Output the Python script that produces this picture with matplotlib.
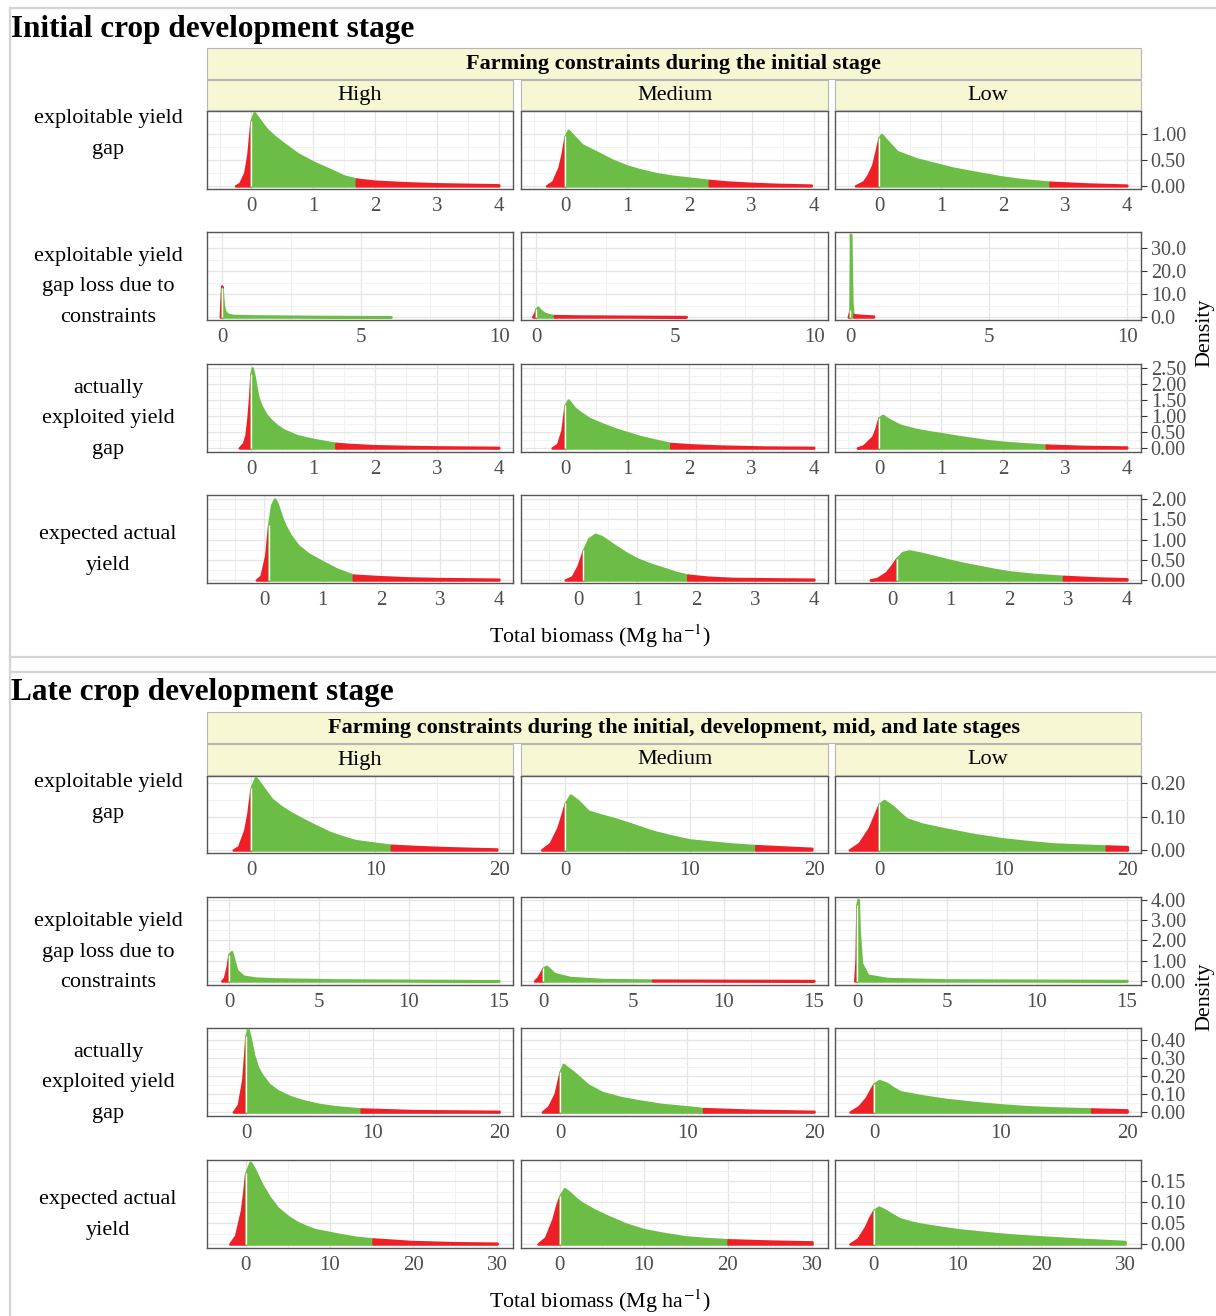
import numpy as np
import matplotlib
matplotlib.use('Agg')
import matplotlib.pyplot as plt
from matplotlib.patches import Rectangle
from matplotlib.lines import Line2D
from matplotlib.ticker import MultipleLocator

plt.rcParams['font.family'] = ['Liberation Serif', 'DejaVu Serif']
plt.rcParams['mathtext.fontset'] = 'stix'

# ---- data (density knots per panel: High, Medium, Low)
levels = ['High', 'Medium', 'Low']
row_labels = ['exploitable yield\ngap',
              'exploitable yield\ngap loss due to\nconstraints',
              'actually\nexploited yield\ngap',
              'expected actual\nyield']

# initial stage, exploitable yield gap
init_gap_x = [[-0.25, -0.18, -0.1, -0.05, 0.0, 0.05, 0.12, 0.18, 0.26, 0.38, 0.52, 0.75, 1.0, 1.32, 1.5, 1.7,
               2.0, 2.5, 3.0, 3.5, 4.0],
              [-0.3, -0.2, -0.1, -0.05, 0.0, 0.05, 0.12, 0.27, 0.49, 0.75, 1.0, 1.2, 1.47, 1.7, 1.99, 2.32,
               2.6, 2.97, 3.4, 3.96],
              [-0.38, -0.25, -0.18, -0.1, -0.05, 0.0, 0.04, 0.12, 0.29, 0.6, 0.8, 1.0, 1.2, 1.47, 1.7, 1.99,
               2.3, 2.76, 3.4, 4.0]]
init_gap_y = [[0.0, 0.05, 0.25, 0.6, 1.24, 1.41, 1.30, 1.2, 1.08, 0.95, 0.82, 0.62, 0.46, 0.29, 0.19, 0.13,
               0.09, 0.06, 0.04, 0.03, 0.02],
              [0.0, 0.08, 0.35, 0.6, 0.95, 1.07, 0.98, 0.79, 0.66, 0.5, 0.38, 0.31, 0.235, 0.19, 0.15, 0.105,
               0.075, 0.05, 0.03, 0.015],
              [0.0, 0.08, 0.2, 0.4, 0.65, 0.92, 0.99, 0.88, 0.66, 0.52, 0.46, 0.40, 0.34, 0.28, 0.23, 0.17,
               0.12, 0.07, 0.035, 0.015]]
init_gap_cut = [(0.0, 1.7), (0.0, 2.32), (0.0, 2.76)]

# initial stage, exploitable yield gap loss due to constraints
init_loss_x = [[-0.06, -0.03, -0.01, 0.0, 0.05, 0.1, 0.2, 0.4, 1.0, 3.0, 6.1],
               [-0.12, -0.05, 0.0, 0.06, 0.15, 0.3, 0.5, 0.66, 1.5, 3.0, 5.4],
               [-0.06, -0.02, 0.0, 0.02, 0.04, 0.07, 0.1, 0.14, 0.4, 0.85]]
init_loss_y = [[0.0, 8.0, 13.5, 12.5, 5.0, 2.5, 1.2, 0.7, 0.5, 0.3, 0.1],
               [0.0, 1.5, 3.5, 4.3, 3.0, 1.6, 0.9, 0.6, 0.45, 0.35, 0.2],
               [0.0, 2.0, 3.0, 36.0, 25.0, 6.0, 2.0, 1.0, 0.7, 0.4]]
init_loss_cut = [(0.0, None), (0.0, 0.66), (0.0, 0.14)]

# initial stage, actually exploited yield gap
init_expl_x = [[-0.19, -0.12, -0.08, -0.05, -0.02, 0.0, 0.02, 0.05, 0.08, 0.11, 0.16, 0.24, 0.32, 0.42, 0.53,
                0.75, 1.0, 1.2, 1.37, 1.6, 2.0, 2.5, 3.0, 4.0],
               [-0.21, -0.12, -0.05, 0.0, 0.05, 0.15, 0.25, 0.39, 0.6, 0.8, 1.0, 1.2, 1.44, 1.7, 2.0, 2.5,
                3.2, 4.0],
               [-0.35, -0.25, -0.1, -0.05, 0.0, 0.06, 0.15, 0.34, 0.6, 0.8, 1.0, 1.25, 1.5, 1.75, 2.0, 2.35,
                2.7, 3.3, 4.0]]
init_expl_y = [[0.0, 0.15, 0.4, 0.9, 1.6, 2.31, 2.5, 2.25, 1.9, 1.6, 1.33, 1.05, 0.87, 0.7, 0.56,
                0.38, 0.27, 0.2, 0.145, 0.11, 0.07, 0.05, 0.035, 0.02],
               [0.0, 0.12, 0.55, 1.33, 1.5, 1.25, 1.1, 0.92, 0.75, 0.6, 0.48, 0.36, 0.25, 0.14, 0.1, 0.06,
                0.03, 0.02],
               [0.0, 0.07, 0.35, 0.6, 0.94, 1.02, 0.9, 0.71, 0.58, 0.51, 0.45, 0.37, 0.3, 0.23, 0.18, 0.13,
                0.09, 0.05, 0.03]]
init_expl_cut = [(0.0, 1.37), (0.0, 1.7), (0.0, 2.7)]

# initial stage, expected actual yield
init_yield_x = [[-0.13, -0.05, 0.03, 0.08, 0.13, 0.18, 0.22, 0.3, 0.36, 0.45, 0.58, 0.75, 1.0, 1.24, 1.52,
                 2.0, 2.5, 3.0, 4.0],
                [-0.22, -0.1, 0.0, 0.09, 0.18, 0.29, 0.4, 0.5, 0.62, 0.8, 1.0, 1.25, 1.49, 1.68, 1.86,
                 2.2, 2.6, 3.2, 4.0],
                [-0.37, -0.25, -0.1, 0.0, 0.08, 0.18, 0.29, 0.5, 0.75, 1.0, 1.25, 1.5, 1.75, 2.0, 2.4,
                 2.92, 3.5, 4.0]]
init_yield_y = [[0.0, 0.1, 0.6, 1.36, 1.85, 2.0, 1.9, 1.55, 1.34, 1.1, 0.85, 0.65, 0.45, 0.27, 0.12,
                 0.08, 0.05, 0.035, 0.02],
                [0.0, 0.08, 0.35, 0.74, 1.02, 1.13, 1.07, 0.97, 0.85, 0.68, 0.52, 0.38, 0.27, 0.18, 0.12,
                 0.07, 0.04, 0.03, 0.02],
                [0.0, 0.04, 0.18, 0.36, 0.53, 0.68, 0.72, 0.66, 0.57, 0.48, 0.4, 0.33, 0.26, 0.2, 0.14,
                 0.09, 0.05, 0.03]]
init_yield_cut = [(0.08, 1.52), (0.09, 1.86), (0.08, 2.92)]

# late stage, exploitable yield gap
late_gap_x = [[-1.44, -1.0, -0.5, -0.25, 0.0, 0.36, 0.9, 1.65, 2.4, 3.2, 4.1, 5.0, 6.3, 7.3, 8.4, 10.0,
               11.3, 13.5, 15.6, 17.5, 19.8],
              [-1.9, -1.2, -0.6, -0.3, 0.0, 0.41, 1.0, 1.85, 2.8, 4.0, 5.5, 7.0, 8.5, 10.0, 13.3, 15.3,
               17.5, 19.8],
              [-2.4, -1.6, -0.8, -0.4, 0.0, 0.41, 1.1, 2.2, 3.5, 5.3, 7.5, 10.0, 12.0, 14.1, 16.0, 18.3,
               20.0]]
late_gap_y = [[0.0, 0.01, 0.06, 0.11, 0.184, 0.217, 0.19, 0.152, 0.13, 0.111, 0.093, 0.076, 0.053, 0.04,
               0.028, 0.02, 0.014, 0.01, 0.007, 0.005, 0.003],
              [0.0, 0.02, 0.065, 0.1, 0.139, 0.164, 0.148, 0.116, 0.105, 0.093, 0.075, 0.056, 0.042, 0.03,
               0.018, 0.013, 0.009, 0.005],
              [0.0, 0.02, 0.065, 0.1, 0.136, 0.148, 0.13, 0.093, 0.077, 0.063, 0.047, 0.033, 0.025, 0.018,
               0.015, 0.012, 0.01]]
late_gap_cut = [(0.0, 11.3), (0.0, 15.3), (0.0, 18.3)]

# late stage, exploitable yield gap loss due to constraints
late_loss_x = [[-0.4, -0.25, -0.1, 0.0, 0.1, 0.14, 0.25, 0.43, 0.8, 1.5, 2.6, 6.0, 15.0],
               [-0.47, -0.3, -0.1, 0.0, 0.18, 0.35, 0.61, 1.5, 3.3, 6.07, 10.0, 15.0],
               [-0.12, -0.05, 0.0, 0.03, 0.07, 0.12, 0.25, 0.6, 1.7, 5.0, 15.0]]
late_loss_y = [[0.0, 0.15, 0.7, 1.3, 1.42, 1.45, 1.1, 0.53, 0.23, 0.14, 0.1, 0.05, 0.01],
               [0.0, 0.15, 0.45, 0.62, 0.73, 0.6, 0.37, 0.17, 0.07, 0.04, 0.03, 0.02],
               [0.0, 1.0, 3.75, 3.9, 4.03, 2.5, 0.87, 0.28, 0.12, 0.05, 0.02]]
late_loss_cut = [(0.0, None), (0.0, 6.07), (0.0, None)]

# late stage, actually exploited yield gap
late_expl_x = [[-1.0, -0.6, -0.25, -0.1, 0.0, 0.15, 0.3, 0.6, 0.9, 1.27, 1.8, 2.5, 3.5, 4.6, 5.8, 7.1, 9.1,
                13.2, 16.5, 20.0],
               [-1.4, -0.9, -0.4, -0.2, 0.0, 0.25, 0.6, 0.9, 1.27, 2.2, 3.3, 4.8, 6.3, 8.0, 10.0, 11.3,
                15.0, 20.0],
               [-1.9, -1.2, -0.6, -0.3, 0.0, 0.4, 1.0, 1.5, 2.1, 3.8, 5.7, 7.8, 10.0, 12.0, 14.2, 17.2,
                20.0]]
late_expl_y = [[0.0, 0.04, 0.18, 0.32, 0.423, 0.46, 0.42, 0.318, 0.25, 0.204, 0.155, 0.118, 0.085, 0.061,
                0.042, 0.029, 0.017, 0.008, 0.006, 0.004],
               [0.0, 0.03, 0.1, 0.16, 0.223, 0.265, 0.245, 0.23, 0.208, 0.15, 0.109, 0.08, 0.061, 0.042,
                0.029, 0.019, 0.01, 0.004],
               [0.0, 0.03, 0.08, 0.12, 0.156, 0.175, 0.16, 0.135, 0.112, 0.09, 0.07, 0.054, 0.04, 0.03,
                0.023, 0.017, 0.012]]
late_expl_cut = [(0.0, 9.1), (0.0, 11.3), (0.0, 17.2)]

# late stage, expected actual yield
late_yield_x = [[-1.9, -1.2, -0.5, -0.25, 0.0, 0.53, 1.0, 1.9, 2.8, 3.8, 5.0, 6.1, 7.2, 8.3, 11.4, 13.2,
                 15.2, 17.5, 19.7, 25.0, 30.0],
                [-2.6, -1.7, -0.8, -0.4, 0.0, 0.54, 1.2, 1.8, 2.6, 4.0, 5.7, 7.8, 10.0, 12.4, 14.9, 17.5,
                 20.0, 25.0, 30.0],
                [-2.85, -1.9, -1.0, -0.5, 0.0, 0.6, 1.4, 2.2, 3.1, 4.5, 6.0, 8.0, 10.0, 12.5, 15.0, 17.5,
                 20.0, 25.0, 30.0]]
late_yield_y = [[0.0, 0.02, 0.08, 0.12, 0.168, 0.195, 0.18, 0.142, 0.112, 0.086, 0.066, 0.052, 0.042,
                 0.034, 0.022, 0.016, 0.012, 0.009, 0.006, 0.003, 0.002],
                [0.0, 0.015, 0.06, 0.09, 0.114, 0.132, 0.122, 0.11, 0.098, 0.082, 0.066, 0.048, 0.034,
                 0.025, 0.017, 0.013, 0.01, 0.007, 0.005],
                [0.0, 0.012, 0.04, 0.062, 0.08, 0.088, 0.08, 0.07, 0.06, 0.052, 0.046, 0.04, 0.034,
                 0.029, 0.024, 0.02, 0.017, 0.011, 0.006]]
late_yield_cut = [(0.0, 15.2), (0.0, 20.0), (0.0, None)]

RED = '#ee1f26'
GREEN = '#6bbd45'
STRIP = '#f7f7d3'
W, H = 1216, 1316

fig = plt.figure(figsize=(W / 100, H / 100), dpi=100)


def fx(x):
    return x / W


def fy(y):
    return 1 - y / H


def box(l, t, r, b):
    fig.add_artist(Rectangle((fx(l), fy(b)), fx(r - l), (b - t) / H,
                             transform=fig.transFigure, facecolor=STRIP,
                             edgecolor='#b5b5b5', lw=0.8))


def hline(y, x0=10, x1=W):
    fig.add_artist(Line2D([fx(x0), fx(x1)], [fy(y), fy(y)], color='#d4d4d4', lw=1.6,
                          transform=fig.transFigure))


def draw_panel(ax, x, y, lo, hi):
    x = np.asarray(x)
    y = np.asarray(y)
    if hi is None:
        hi = x[-1]
    ax.fill_between(x, 0, y, where=x <= lo, facecolor=RED, edgecolor=RED, lw=1.8, zorder=3)
    ax.fill_between(x, 0, y, where=(x >= lo) & (x <= hi), facecolor=GREEN, edgecolor=GREEN,
                    lw=1.8, zorder=3)
    if hi < x[-1]:
        ax.fill_between(x, 0, y, where=x >= hi, facecolor=RED, edgecolor=RED, lw=1.8, zorder=3)
    ax.vlines(lo, 0, y[x == lo][0], color='white', lw=1.0, zorder=4)


col_x = [(207, 513), (521, 828), (835, 1141)]

sections = [
    dict(title='Initial crop development stage', title_y=30,
         strip='Farming constraints during the initial stage', strip_y=(48, 79, 110),
         rows=[(init_gap_x, init_gap_y, init_gap_cut, (111, 189), (-0.71, 4.23), (-0.06, 1.44),
                [0, 1, 2, 3, 4], 0.5, [0, 0.5, 1.0], '%.2f', 134),
               (init_loss_x, init_loss_y, init_loss_cut, (232, 320), (-0.54, 10.5), (-1.3, 37.0),
                [0, 5, 10], 2.5, [0, 10, 20, 30], '%.1f', 287),
               (init_expl_x, init_expl_y, init_expl_cut, (364, 452), (-0.71, 4.23), (-0.125, 2.625),
                [0, 1, 2, 3, 4], 0.5, [0, 0.5, 1.0, 1.5, 2.0, 2.5], '%.2f', 419),
               (init_yield_x, init_yield_y, init_yield_cut, (495, 583), (-0.97, 4.24), (-0.074, 2.1),
                [0, 1, 2, 3, 4], 0.5, [0, 0.5, 1.0, 1.5, 2.0], '%.2f', 550)],
         xlabel_y=636, density_y=333),
    dict(title='Late crop development stage', title_y=693,
         strip='Farming constraints during the initial, development, mid, and late stages',
         strip_y=(712, 743, 775),
         rows=[(late_gap_x, late_gap_y, late_gap_cut, (776, 853), (-3.55, 21.1), (-0.009, 0.221),
                [0, 10, 20], 5, [0, 0.1, 0.2], '%.2f', 798),
               (late_loss_x, late_loss_y, late_loss_cut, (897, 985), (-1.22, 15.78), (-0.2, 4.15),
                [0, 5, 10, 15], 2.5, [0, 1, 2, 3, 4], '%.2f', 952),
               (late_expl_x, late_expl_y, late_expl_cut, (1028, 1116), (-3.08, 21.1), (-0.022, 0.467),
                [0, 10, 20], 5, [0, 0.1, 0.2, 0.3, 0.4], '%.2f', 1083),
               (late_yield_x, late_yield_y, late_yield_cut, (1160, 1248), (-4.62, 31.9), (-0.0095, 0.2),
                [0, 10, 20, 30], 5, [0, 0.05, 0.1, 0.15], '%.2f', 1215)],
         xlabel_y=1301, density_y=997),
]

# outer frame lines
hline(8)
hline(657)
hline(672)
fig.add_artist(Line2D([fx(10), fx(10)], [fy(8), fy(H)], color='#d4d4d4', lw=1.6,
                      transform=fig.transFigure))

for sec in sections:
    fig.text(fx(11), fy(sec['title_y']), sec['title'], fontsize=22.5, fontweight='bold',
             va='center', ha='left')
    t0, t1, t2 = sec['strip_y']
    box(207, t0, 1141, t1)
    fig.text(fx(674), fy((t0 + t1) / 2), sec['strip'], fontsize=16, fontweight='bold',
             ha='center', va='center')
    for (l, r), lev in zip(col_x, levels):
        box(l, t1 + 1, r, t2)
        fig.text(fx((l + r) / 2), fy((t1 + t2) / 2 + 1), lev, fontsize=16,
                 ha='center', va='center')

    for i, (xs, ys, cuts, (top, bot), xlim, ylim, xt, xminor, yt, yfmt, lab_y) in enumerate(sec['rows']):
        fig.text(fx(108), fy(lab_y), row_labels[i], fontsize=16, ha='center', va='center',
                 linespacing=1.85)
        for j, (l, r) in enumerate(col_x):
            ax = fig.add_axes([fx(l), fy(bot), fx(r - l), (bot - top) / H])
            draw_panel(ax, xs[j], ys[j], cuts[j][0], cuts[j][1])
            ax.set_xlim(*xlim)
            ax.set_ylim(*ylim)
            ax.set_xticks(xt)
            ax.set_xticklabels([str(v) for v in xt])
            ax.xaxis.set_minor_locator(MultipleLocator(xminor))
            ax.set_yticks(yt)
            ax.yaxis.set_minor_locator(MultipleLocator((yt[1] - yt[0]) / 2))
            ax.grid(which='major', color='#e6e6e6', lw=1.0, zorder=0)
            ax.grid(which='minor', color='#f2f2f2', lw=0.7, zorder=0)
            ax.set_axisbelow(True)
            ax.tick_params(axis='x', length=0, pad=6, labelsize=15, labelcolor='#4d4d4d')
            ax.tick_params(which='minor', length=0)
            if j == 2:
                ax.yaxis.tick_right()
                ax.set_yticklabels([yfmt % v for v in yt])
                ax.tick_params(axis='y', length=4, width=0.8, color='#333333', pad=3,
                               labelsize=14.5, labelcolor='#4d4d4d')
            else:
                ax.tick_params(axis='y', length=0, labelleft=False, labelright=False)
            for s in ax.spines.values():
                s.set_color('#555555')
                s.set_linewidth(1.0)

    fig.text(fx(600), fy(sec['xlabel_y']), 'Total biomass (Mg ha$^{-1}$)', fontsize=15.8,
             ha='center', va='center')
    fig.text(fx(1205), fy(sec['density_y']), 'Density', fontsize=15.8, rotation=90,
             ha='center', va='center')

fig.savefig('out.png', dpi=100, facecolor='white')
